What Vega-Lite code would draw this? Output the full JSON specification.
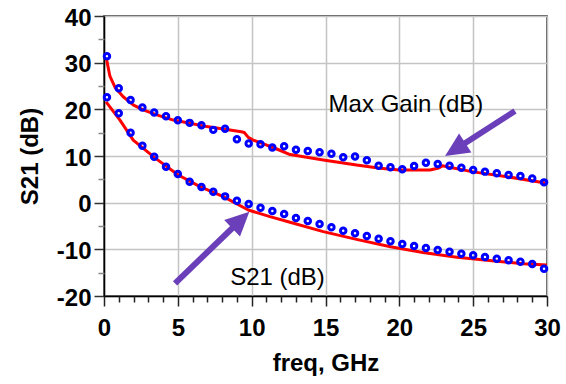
{
  "$schema": "https://vega.github.io/schema/vega-lite/v6.json",
  "width": 443,
  "height": 280,
  "autosize": {"type": "none"},
  "padding": {"left": 104, "top": 16, "right": 19, "bottom": 88},
  "background": "white",
  "config": {
    "font": "Liberation Sans",
    "view": {"stroke": "#222222", "strokeWidth": 1.5}
  },
  "datasets": {
    "simulated": [
      {"trace": "Max Gain (dB)", "freq": 0.18, "dB": 30.6},
      {"trace": "Max Gain (dB)", "freq": 0.4, "dB": 27.1},
      {"trace": "Max Gain (dB)", "freq": 0.75, "dB": 24.7},
      {"trace": "Max Gain (dB)", "freq": 1.3, "dB": 22.7},
      {"trace": "Max Gain (dB)", "freq": 2.0, "dB": 20.9},
      {"trace": "Max Gain (dB)", "freq": 2.66, "dB": 19.9},
      {"trace": "Max Gain (dB)", "freq": 3.57, "dB": 18.8},
      {"trace": "Max Gain (dB)", "freq": 4.7, "dB": 17.7},
      {"trace": "Max Gain (dB)", "freq": 5.82, "dB": 17.0},
      {"trace": "Max Gain (dB)", "freq": 6.95, "dB": 16.3},
      {"trace": "Max Gain (dB)", "freq": 8.08, "dB": 15.8},
      {"trace": "Max Gain (dB)", "freq": 9.3, "dB": 15.2},
      {"trace": "Max Gain (dB)", "freq": 9.5, "dB": 15.05},
      {"trace": "Max Gain (dB)", "freq": 9.77, "dB": 14.0},
      {"trace": "Max Gain (dB)", "freq": 10.1, "dB": 13.4},
      {"trace": "Max Gain (dB)", "freq": 10.8, "dB": 12.6},
      {"trace": "Max Gain (dB)", "freq": 11.7, "dB": 11.5},
      {"trace": "Max Gain (dB)", "freq": 12.6, "dB": 10.3},
      {"trace": "Max Gain (dB)", "freq": 14.85, "dB": 9.14},
      {"trace": "Max Gain (dB)", "freq": 17.1, "dB": 8.07},
      {"trace": "Max Gain (dB)", "freq": 18.7, "dB": 7.36},
      {"trace": "Max Gain (dB)", "freq": 20.0, "dB": 7.0},
      {"trace": "Max Gain (dB)", "freq": 22.07, "dB": 7.0},
      {"trace": "Max Gain (dB)", "freq": 22.6, "dB": 7.36},
      {"trace": "Max Gain (dB)", "freq": 22.93, "dB": 7.9},
      {"trace": "Max Gain (dB)", "freq": 23.4, "dB": 7.57},
      {"trace": "Max Gain (dB)", "freq": 25.0, "dB": 6.6},
      {"trace": "Max Gain (dB)", "freq": 27.3, "dB": 5.56},
      {"trace": "Max Gain (dB)", "freq": 30.0, "dB": 4.14},
      {"trace": "S21 (dB)", "freq": 0.14, "dB": 21.6},
      {"trace": "S21 (dB)", "freq": 1.08, "dB": 17.7},
      {"trace": "S21 (dB)", "freq": 1.98, "dB": 13.4},
      {"trace": "S21 (dB)", "freq": 3.45, "dB": 9.6},
      {"trace": "S21 (dB)", "freq": 5.03, "dB": 5.93},
      {"trace": "S21 (dB)", "freq": 6.5, "dB": 3.43},
      {"trace": "S21 (dB)", "freq": 8.08, "dB": 1.29},
      {"trace": "S21 (dB)", "freq": 9.77, "dB": -1.57},
      {"trace": "S21 (dB)", "freq": 11.24, "dB": -3.0},
      {"trace": "S21 (dB)", "freq": 12.6, "dB": -4.2},
      {"trace": "S21 (dB)", "freq": 14.85, "dB": -6.2},
      {"trace": "S21 (dB)", "freq": 17.1, "dB": -7.86},
      {"trace": "S21 (dB)", "freq": 19.4, "dB": -9.43},
      {"trace": "S21 (dB)", "freq": 21.6, "dB": -10.7},
      {"trace": "S21 (dB)", "freq": 23.9, "dB": -11.7},
      {"trace": "S21 (dB)", "freq": 26.1, "dB": -12.4},
      {"trace": "S21 (dB)", "freq": 28.4, "dB": -13.1},
      {"trace": "S21 (dB)", "freq": 30.0, "dB": -13.35}
    ],
    "measured": [
      {"trace": "Max Gain (dB)", "freq": 0.2, "dB": 31.4},
      {"trace": "Max Gain (dB)", "freq": 1.0, "dB": 24.5},
      {"trace": "Max Gain (dB)", "freq": 1.8, "dB": 22.0},
      {"trace": "Max Gain (dB)", "freq": 2.6, "dB": 20.4},
      {"trace": "Max Gain (dB)", "freq": 3.4, "dB": 19.3},
      {"trace": "Max Gain (dB)", "freq": 4.2, "dB": 18.5},
      {"trace": "Max Gain (dB)", "freq": 5.0, "dB": 17.65},
      {"trace": "Max Gain (dB)", "freq": 5.8, "dB": 17.1},
      {"trace": "Max Gain (dB)", "freq": 6.6, "dB": 16.6},
      {"trace": "Max Gain (dB)", "freq": 7.4, "dB": 15.6},
      {"trace": "Max Gain (dB)", "freq": 8.2, "dB": 15.85},
      {"trace": "Max Gain (dB)", "freq": 9.0, "dB": 13.6},
      {"trace": "Max Gain (dB)", "freq": 9.8, "dB": 12.7},
      {"trace": "Max Gain (dB)", "freq": 10.6, "dB": 12.5},
      {"trace": "Max Gain (dB)", "freq": 11.4, "dB": 11.8},
      {"trace": "Max Gain (dB)", "freq": 12.2, "dB": 12.1},
      {"trace": "Max Gain (dB)", "freq": 13.0, "dB": 11.35},
      {"trace": "Max Gain (dB)", "freq": 13.8, "dB": 11.07},
      {"trace": "Max Gain (dB)", "freq": 14.6, "dB": 10.8},
      {"trace": "Max Gain (dB)", "freq": 15.4, "dB": 10.46},
      {"trace": "Max Gain (dB)", "freq": 16.2, "dB": 9.75},
      {"trace": "Max Gain (dB)", "freq": 17.0, "dB": 9.9},
      {"trace": "Max Gain (dB)", "freq": 17.8, "dB": 9.1},
      {"trace": "Max Gain (dB)", "freq": 18.6, "dB": 7.9},
      {"trace": "Max Gain (dB)", "freq": 19.4, "dB": 7.6},
      {"trace": "Max Gain (dB)", "freq": 20.2, "dB": 7.15},
      {"trace": "Max Gain (dB)", "freq": 21.0, "dB": 7.85},
      {"trace": "Max Gain (dB)", "freq": 21.8, "dB": 8.55},
      {"trace": "Max Gain (dB)", "freq": 22.6, "dB": 8.3},
      {"trace": "Max Gain (dB)", "freq": 23.4, "dB": 7.9},
      {"trace": "Max Gain (dB)", "freq": 24.2, "dB": 7.5},
      {"trace": "Max Gain (dB)", "freq": 25.0, "dB": 7.0},
      {"trace": "Max Gain (dB)", "freq": 25.8, "dB": 6.65},
      {"trace": "Max Gain (dB)", "freq": 26.6, "dB": 6.3},
      {"trace": "Max Gain (dB)", "freq": 27.4, "dB": 5.95},
      {"trace": "Max Gain (dB)", "freq": 28.2, "dB": 5.7},
      {"trace": "Max Gain (dB)", "freq": 29.0, "dB": 5.2},
      {"trace": "Max Gain (dB)", "freq": 29.8, "dB": 4.35},
      {"trace": "S21 (dB)", "freq": 0.2, "dB": 22.6},
      {"trace": "S21 (dB)", "freq": 1.0, "dB": 19.15},
      {"trace": "S21 (dB)", "freq": 1.8, "dB": 15.0},
      {"trace": "S21 (dB)", "freq": 2.6, "dB": 12.2},
      {"trace": "S21 (dB)", "freq": 3.4, "dB": 9.85},
      {"trace": "S21 (dB)", "freq": 4.2, "dB": 7.7},
      {"trace": "S21 (dB)", "freq": 5.0, "dB": 6.15},
      {"trace": "S21 (dB)", "freq": 5.8, "dB": 4.5},
      {"trace": "S21 (dB)", "freq": 6.6, "dB": 3.35},
      {"trace": "S21 (dB)", "freq": 7.4, "dB": 2.35},
      {"trace": "S21 (dB)", "freq": 8.2, "dB": 1.35},
      {"trace": "S21 (dB)", "freq": 9.0, "dB": 0.43},
      {"trace": "S21 (dB)", "freq": 9.8, "dB": -0.28},
      {"trace": "S21 (dB)", "freq": 10.6, "dB": -1.07},
      {"trace": "S21 (dB)", "freq": 11.4, "dB": -1.78},
      {"trace": "S21 (dB)", "freq": 12.2, "dB": -2.43},
      {"trace": "S21 (dB)", "freq": 13.0, "dB": -3.28},
      {"trace": "S21 (dB)", "freq": 13.8, "dB": -3.93},
      {"trace": "S21 (dB)", "freq": 14.6, "dB": -4.57},
      {"trace": "S21 (dB)", "freq": 15.4, "dB": -5.28},
      {"trace": "S21 (dB)", "freq": 16.2, "dB": -6.0},
      {"trace": "S21 (dB)", "freq": 17.0, "dB": -6.57},
      {"trace": "S21 (dB)", "freq": 17.8, "dB": -7.14},
      {"trace": "S21 (dB)", "freq": 18.6, "dB": -7.71},
      {"trace": "S21 (dB)", "freq": 19.4, "dB": -8.28},
      {"trace": "S21 (dB)", "freq": 20.2, "dB": -8.85},
      {"trace": "S21 (dB)", "freq": 21.0, "dB": -9.28},
      {"trace": "S21 (dB)", "freq": 21.8, "dB": -9.7},
      {"trace": "S21 (dB)", "freq": 22.6, "dB": -10.14},
      {"trace": "S21 (dB)", "freq": 23.4, "dB": -10.5},
      {"trace": "S21 (dB)", "freq": 24.2, "dB": -10.93},
      {"trace": "S21 (dB)", "freq": 25.0, "dB": -11.28},
      {"trace": "S21 (dB)", "freq": 25.8, "dB": -11.64},
      {"trace": "S21 (dB)", "freq": 26.6, "dB": -12.0},
      {"trace": "S21 (dB)", "freq": 27.4, "dB": -12.35},
      {"trace": "S21 (dB)", "freq": 28.2, "dB": -12.64},
      {"trace": "S21 (dB)", "freq": 29.0, "dB": -13.14},
      {"trace": "S21 (dB)", "freq": 29.8, "dB": -14.14}
    ],
    "callouts": [
      {"label": "Max Gain (dB)", "tailFreq": 27.83, "tailDB": 19.64, "headFreq": 23.78, "headDB": 11.39, "textFreq": 20.45, "textDB": 19.5},
      {"label": "S21 (dB)", "tailFreq": 4.81, "tailDB": -17.28, "headFreq": 9.26, "headDB": -3.71, "textFreq": 11.75, "textDB": -17.64}
    ]
  },
  "layer": [
    {
      "data": {"name": "simulated"},
      "mark": {"type": "line", "color": "#ff0000", "strokeWidth": 3, "strokeJoin": "round"},
      "encoding": {
        "x": {
          "field": "freq", "type": "quantitative",
          "scale": {"domain": [0, 30], "nice": false, "zero": false},
          "axis": {
            "orient": "bottom",
            "values": [0, 5, 10, 15, 20, 25, 30],
            "grid": true, "gridColor": "#c4c4c4", "gridWidth": 1.5,
            "domain": true, "domainColor": "#000000", "domainWidth": 1.5,
            "ticks": true, "tickSize": 10, "tickColor": "#222222", "tickWidth": 1.5,
            "labelFontSize": 24, "labelFontWeight": "bold", "labelColor": "#000000",
            "labelPadding": 10, "labelFlush": false, "labelOverlap": false,
            "labelExpr": "datum.value + ''",
            "title": "freq, GHz", "titleFontSize": 24, "titleFontWeight": "bold",
            "titleColor": "#000000", "titleY": 74, "titleBaseline": "alphabetic"
          }
        },
        "y": {
          "field": "dB", "type": "quantitative",
          "scale": {"domain": [-20, 40], "nice": false, "zero": false},
          "axis": {
            "orient": "left",
            "values": [-20, -10, 0, 10, 20, 30, 40],
            "grid": true, "gridColor": "#c4c4c4", "gridWidth": 1.5,
            "domain": true, "domainColor": "#000000", "domainWidth": 1.5,
            "ticks": true, "tickSize": 10, "tickColor": "#333333", "tickWidth": 1.5,
            "labelFontSize": 24, "labelFontWeight": "bold", "labelColor": "#000000",
            "labelPadding": 3, "labelOffset": 2, "labelFlush": false, "labelOverlap": false,
            "labelExpr": "datum.value + ''",
            "title": "S21 (dB)", "titleFontSize": 24, "titleFontWeight": "bold",
            "titleColor": "#000000", "titleAngle": 270, "titleX": -67, "titleY": 140,
            "titleAlign": "center", "titleBaseline": "alphabetic"
          }
        },
        "detail": {"field": "trace", "type": "nominal"}
      }
    },
    {
      "data": {"name": "measured"},
      "mark": {"type": "point", "shape": "circle", "filled": false, "color": "#0000ff", "strokeWidth": 3, "size": 30, "opacity": 1},
      "encoding": {
        "x": {
          "field": "freq", "type": "quantitative",
          "axis": {
            "orient": "bottom",
            "values": [1, 2, 3, 4, 6, 7, 8, 9, 11, 12, 13, 14, 16, 17, 18, 19, 21, 22, 23, 24, 26, 27, 28, 29],
            "grid": false, "domain": false, "labels": false, "title": null,
            "ticks": true, "tickSize": 6, "tickColor": "#222222", "tickWidth": 1.5
          }
        },
        "y": {
          "field": "dB", "type": "quantitative",
          "axis": {
            "orient": "left",
            "values": [-15, -5, 5, 15, 25, 35],
            "grid": false, "domain": false, "labels": false, "title": null,
            "ticks": true, "tickSize": 6, "tickColor": "#888888", "tickWidth": 1.5
          }
        },
        "detail": {"field": "trace", "type": "nominal"}
      }
    },
    {
      "data": {"name": "callouts"},
      "mark": {"type": "rule", "color": "#6b3fba", "strokeWidth": 6, "strokeCap": "butt"},
      "encoding": {
        "x": {"field": "tailFreq", "type": "quantitative", "axis": null},
        "y": {"field": "tailDB", "type": "quantitative", "axis": null},
        "x2": {"field": "headFreq"},
        "y2": {"field": "headDB"}
      }
    },
    {
      "data": {"name": "callouts"},
      "transform": [{"filter": "datum.label === 'Max Gain (dB)'"}],
      "mark": {"type": "point", "shape": "M0,-1L0.95,1L-0.95,1Z", "filled": true, "color": "#6b3fba", "opacity": 1, "size": 576, "angle": 237.3, "strokeWidth": 0},
      "encoding": {
        "x": {"field": "headFreq", "type": "quantitative", "axis": null},
        "y": {"field": "headDB", "type": "quantitative", "axis": null}
      }
    },
    {
      "data": {"name": "callouts"},
      "transform": [{"filter": "datum.label === 'S21 (dB)'"}],
      "mark": {"type": "point", "shape": "M0,-1L0.95,1L-0.95,1Z", "filled": true, "color": "#6b3fba", "opacity": 1, "size": 576, "angle": 46, "strokeWidth": 0},
      "encoding": {
        "x": {"field": "headFreq", "type": "quantitative", "axis": null},
        "y": {"field": "headDB", "type": "quantitative", "axis": null}
      }
    },
    {
      "data": {"name": "callouts"},
      "mark": {"type": "text", "fontSize": 24, "color": "#000000", "align": "center", "baseline": "alphabetic"},
      "encoding": {
        "x": {"field": "textFreq", "type": "quantitative", "axis": null},
        "y": {"field": "textDB", "type": "quantitative", "axis": null},
        "text": {"field": "label", "type": "nominal"}
      }
    }
  ],
  "resolve": {"axis": {"x": "independent", "y": "independent"}}
}
